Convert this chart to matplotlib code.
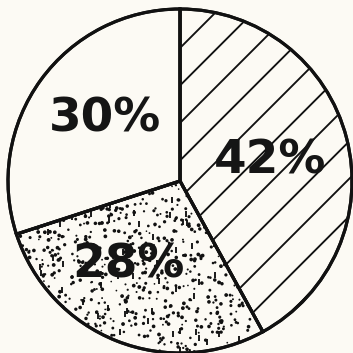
import numpy as np
import matplotlib
matplotlib.use("Agg")
import matplotlib.pyplot as plt
from matplotlib.collections import LineCollection
from matplotlib.patches import PathPatch

labels = ["42%", "28%", "30%"]
values = [42, 28, 30]
textures = ["lines", "dots", None]

BG = "#fcfaf4"
INK = "#111111"
DPI = 150
W = 353
fig = plt.figure(figsize=(W / DPI, W / DPI), dpi=DPI, facecolor=BG)
ax = fig.add_axes([0, 0, 1, 1])
ax.set_facecolor(BG)

cx, cy, r = 180, 172, 172
wedges, _ = ax.pie(values, startangle=90, counterclock=False, center=(cx, cy), radius=r,
                   colors=[BG] * 3, frame=True,
                   wedgeprops=dict(edgecolor=INK, linewidth=1.5))

rng = np.random.default_rng(3)
for w, tex in zip(wedges, textures):
    if tex == "lines":
        offs = np.arange(-25 - 37.5 * 12, 400, 37.5)
        segs = [[(-10, -10 + b), (400, 400 + b)] for b in offs]
        lc = LineCollection(segs, colors=INK, linewidths=0.9, zorder=2)
        ax.add_collection(lc)
        lc.set_clip_path(w)
    elif tex == "dots":
        th1, th2 = np.deg2rad(w.theta1), np.deg2rad(w.theta2)
        n = 480
        rr = r * np.sqrt(rng.uniform(0, 1, n))
        tt = rng.uniform(th1, th2, n)
        sc = ax.scatter(cx + rr * np.cos(tt), cy + rr * np.sin(tt),
                        s=rng.uniform(0.6, 3.4, n), c=INK, marker="o",
                        linewidths=0, zorder=3)
        sc.set_clip_path(w)
        m = 50
        rr2 = r * np.sqrt(rng.uniform(0, 1, m))
        tt2 = rng.uniform(th1, th2, m)
        sc2 = ax.scatter(cx + rr2 * np.cos(tt2), cy + rr2 * np.sin(tt2), s=6, c=INK,
                         marker="|", linewidths=0.9, zorder=3)
        sc2.set_clip_path(w)

for w in wedges:
    e = PathPatch(w.get_path(), transform=w.get_patch_transform() + ax.transData,
                  fill=False, edgecolor=INK, linewidth=1.5, zorder=4)
    ax.add_patch(e)

label_pos = [(270, 180), (128, 76), (105.5, 221)]
for lab, (x, y) in zip(labels, label_pos):
    ax.text(x, y, lab, ha="center", va="baseline", fontsize=22.5, fontweight="bold",
            family="DejaVu Sans", color="#151515", zorder=6)

ax.set_xlim(0, W)
ax.set_ylim(0, W)
ax.set_aspect("equal")
ax.axis("off")
fig.savefig("out.png", dpi=DPI, facecolor=BG)
